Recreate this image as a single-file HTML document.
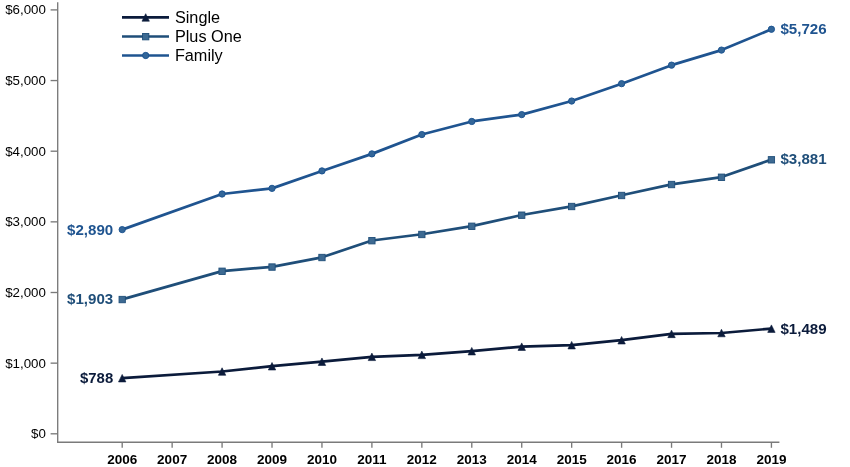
<!DOCTYPE html>
<html lang="en"><head><meta charset="utf-8"><title>Average employee contribution</title>
<style>
html,body{margin:0;padding:0;background:#fff;}
body{width:850px;height:467px;overflow:hidden;}
svg{display:block;}
text{font-family:"Liberation Sans",Arial,sans-serif;}
.yl{font-size:13.3px;fill:#000;text-anchor:end;}
.xl{font-size:13.5px;font-weight:bold;fill:#000;text-anchor:middle;}
.lg{font-size:16.25px;fill:#000;}
.dl{font-size:14.6px;font-weight:bold;}
</style></head><body>
<svg width="850" height="467" viewBox="0 0 850 467">
<rect width="850" height="467" fill="#fff"/>

<g stroke="#7a7a7a" stroke-width="1.35" fill="none">
<path d="M57.7 2.3V442.2H779.4"/>
<path d="M50.6 433.80H57.7"/>
<path d="M50.6 363.15H57.7"/>
<path d="M50.6 292.50H57.7"/>
<path d="M50.6 221.85H57.7"/>
<path d="M50.6 151.20H57.7"/>
<path d="M50.6 80.55H57.7"/>
<path d="M50.6 9.90H57.7"/>
<path d="M122.20 442.2V447.8"/>
<path d="M172.14 442.2V447.8"/>
<path d="M222.08 442.2V447.8"/>
<path d="M272.02 442.2V447.8"/>
<path d="M321.96 442.2V447.8"/>
<path d="M371.90 442.2V447.8"/>
<path d="M421.84 442.2V447.8"/>
<path d="M471.78 442.2V447.8"/>
<path d="M521.72 442.2V447.8"/>
<path d="M571.66 442.2V447.8"/>
<path d="M621.60 442.2V447.8"/>
<path d="M671.54 442.2V447.8"/>
<path d="M721.48 442.2V447.8"/>
<path d="M771.42 442.2V447.8"/>
</g>
<text class="yl" x="45.9" y="438.30">$0</text>
<text class="yl" x="45.9" y="367.65">$1,000</text>
<text class="yl" x="45.9" y="297.00">$2,000</text>
<text class="yl" x="45.9" y="226.35">$3,000</text>
<text class="yl" x="45.9" y="155.70">$4,000</text>
<text class="yl" x="45.9" y="85.05">$5,000</text>
<text class="yl" x="45.9" y="14.40">$6,000</text>
<text class="xl" x="122.20" y="464">2006</text>
<text class="xl" x="172.14" y="464">2007</text>
<text class="xl" x="222.08" y="464">2008</text>
<text class="xl" x="272.02" y="464">2009</text>
<text class="xl" x="321.96" y="464">2010</text>
<text class="xl" x="371.90" y="464">2011</text>
<text class="xl" x="421.84" y="464">2012</text>
<text class="xl" x="471.78" y="464">2013</text>
<text class="xl" x="521.72" y="464">2014</text>
<text class="xl" x="571.66" y="464">2015</text>
<text class="xl" x="621.60" y="464">2016</text>
<text class="xl" x="671.54" y="464">2017</text>
<text class="xl" x="721.48" y="464">2018</text>
<text class="xl" x="771.42" y="464">2019</text>
<polyline points="122.20,229.62 222.08,194.01 272.02,188.36 321.96,170.91 371.90,153.88 421.84,134.53 471.78,121.46 521.72,114.60 571.66,101.04 621.60,83.66 671.54,65.15 721.48,50.10 771.42,29.26" fill="none" stroke="#1f5490" stroke-width="2.7" stroke-linejoin="round" stroke-linecap="round"/>
<circle cx="122.20" cy="229.62" r="3.15" fill="#336699" stroke="#17508f" stroke-width="0.9"/>
<circle cx="222.08" cy="194.01" r="3.15" fill="#336699" stroke="#17508f" stroke-width="0.9"/>
<circle cx="272.02" cy="188.36" r="3.15" fill="#336699" stroke="#17508f" stroke-width="0.9"/>
<circle cx="321.96" cy="170.91" r="3.15" fill="#336699" stroke="#17508f" stroke-width="0.9"/>
<circle cx="371.90" cy="153.88" r="3.15" fill="#336699" stroke="#17508f" stroke-width="0.9"/>
<circle cx="421.84" cy="134.53" r="3.15" fill="#336699" stroke="#17508f" stroke-width="0.9"/>
<circle cx="471.78" cy="121.46" r="3.15" fill="#336699" stroke="#17508f" stroke-width="0.9"/>
<circle cx="521.72" cy="114.60" r="3.15" fill="#336699" stroke="#17508f" stroke-width="0.9"/>
<circle cx="571.66" cy="101.04" r="3.15" fill="#336699" stroke="#17508f" stroke-width="0.9"/>
<circle cx="621.60" cy="83.66" r="3.15" fill="#336699" stroke="#17508f" stroke-width="0.9"/>
<circle cx="671.54" cy="65.15" r="3.15" fill="#336699" stroke="#17508f" stroke-width="0.9"/>
<circle cx="721.48" cy="50.10" r="3.15" fill="#336699" stroke="#17508f" stroke-width="0.9"/>
<circle cx="771.42" cy="29.26" r="3.15" fill="#336699" stroke="#17508f" stroke-width="0.9"/>
<polyline points="122.20,299.35 222.08,271.09 272.02,266.85 321.96,257.32 371.90,240.50 421.84,234.28 471.78,226.09 521.72,215.00 571.66,206.31 621.60,195.29 671.54,184.33 721.48,177.06 771.42,159.61" fill="none" stroke="#1f4e79" stroke-width="2.7" stroke-linejoin="round" stroke-linecap="round"/>
<rect x="119.05" y="296.35" width="6.3" height="6.4" fill="#3d6a92" stroke="#1f4e79" stroke-width="0.9"/>
<rect x="218.93" y="268.09" width="6.3" height="6.4" fill="#3d6a92" stroke="#1f4e79" stroke-width="0.9"/>
<rect x="268.87" y="263.85" width="6.3" height="6.4" fill="#3d6a92" stroke="#1f4e79" stroke-width="0.9"/>
<rect x="318.81" y="254.32" width="6.3" height="6.4" fill="#3d6a92" stroke="#1f4e79" stroke-width="0.9"/>
<rect x="368.75" y="237.50" width="6.3" height="6.4" fill="#3d6a92" stroke="#1f4e79" stroke-width="0.9"/>
<rect x="418.69" y="231.28" width="6.3" height="6.4" fill="#3d6a92" stroke="#1f4e79" stroke-width="0.9"/>
<rect x="468.63" y="223.09" width="6.3" height="6.4" fill="#3d6a92" stroke="#1f4e79" stroke-width="0.9"/>
<rect x="518.57" y="212.00" width="6.3" height="6.4" fill="#3d6a92" stroke="#1f4e79" stroke-width="0.9"/>
<rect x="568.51" y="203.31" width="6.3" height="6.4" fill="#3d6a92" stroke="#1f4e79" stroke-width="0.9"/>
<rect x="618.45" y="192.29" width="6.3" height="6.4" fill="#3d6a92" stroke="#1f4e79" stroke-width="0.9"/>
<rect x="668.39" y="181.33" width="6.3" height="6.4" fill="#3d6a92" stroke="#1f4e79" stroke-width="0.9"/>
<rect x="718.33" y="174.06" width="6.3" height="6.4" fill="#3d6a92" stroke="#1f4e79" stroke-width="0.9"/>
<rect x="768.27" y="156.61" width="6.3" height="6.4" fill="#3d6a92" stroke="#1f4e79" stroke-width="0.9"/>
<polyline points="122.20,378.13 222.08,371.49 272.02,366.19 321.96,361.67 371.90,356.79 421.84,354.81 471.78,351.14 521.72,346.62 571.66,345.13 621.60,340.19 671.54,333.83 721.48,332.98 771.42,328.60" fill="none" stroke="#0b1b3b" stroke-width="2.7" stroke-linejoin="round" stroke-linecap="round"/>
<path d="M122.20 374.43L125.90 381.93H118.50Z" fill="#0b1b3b" stroke="#0b1b3b" stroke-width="0.6" stroke-linejoin="miter"/>
<path d="M222.08 367.79L225.78 375.29H218.38Z" fill="#0b1b3b" stroke="#0b1b3b" stroke-width="0.6" stroke-linejoin="miter"/>
<path d="M272.02 362.49L275.72 369.99H268.32Z" fill="#0b1b3b" stroke="#0b1b3b" stroke-width="0.6" stroke-linejoin="miter"/>
<path d="M321.96 357.97L325.66 365.47H318.26Z" fill="#0b1b3b" stroke="#0b1b3b" stroke-width="0.6" stroke-linejoin="miter"/>
<path d="M371.90 353.09L375.60 360.59H368.20Z" fill="#0b1b3b" stroke="#0b1b3b" stroke-width="0.6" stroke-linejoin="miter"/>
<path d="M421.84 351.11L425.54 358.61H418.14Z" fill="#0b1b3b" stroke="#0b1b3b" stroke-width="0.6" stroke-linejoin="miter"/>
<path d="M471.78 347.44L475.48 354.94H468.08Z" fill="#0b1b3b" stroke="#0b1b3b" stroke-width="0.6" stroke-linejoin="miter"/>
<path d="M521.72 342.92L525.42 350.42H518.02Z" fill="#0b1b3b" stroke="#0b1b3b" stroke-width="0.6" stroke-linejoin="miter"/>
<path d="M571.66 341.43L575.36 348.93H567.96Z" fill="#0b1b3b" stroke="#0b1b3b" stroke-width="0.6" stroke-linejoin="miter"/>
<path d="M621.60 336.49L625.30 343.99H617.90Z" fill="#0b1b3b" stroke="#0b1b3b" stroke-width="0.6" stroke-linejoin="miter"/>
<path d="M671.54 330.13L675.24 337.63H667.84Z" fill="#0b1b3b" stroke="#0b1b3b" stroke-width="0.6" stroke-linejoin="miter"/>
<path d="M721.48 329.28L725.18 336.78H717.78Z" fill="#0b1b3b" stroke="#0b1b3b" stroke-width="0.6" stroke-linejoin="miter"/>
<path d="M771.42 324.90L775.12 332.40H767.72Z" fill="#0b1b3b" stroke="#0b1b3b" stroke-width="0.6" stroke-linejoin="miter"/>
<path d="M122 17.40H169" stroke="#0b1b3b" stroke-width="2.6" fill="none"/>
<path d="M145.70 13.70L149.40 21.20H142.00Z" fill="#0b1b3b" stroke="#0b1b3b" stroke-width="0.6" stroke-linejoin="miter"/>
<text class="lg" x="174.9" y="22.70">Single</text>
<path d="M122 36.45H169" stroke="#1f4e79" stroke-width="2.6" fill="none"/>
<rect x="142.55" y="33.45" width="6.3" height="6.4" fill="#3d6a92" stroke="#1f4e79" stroke-width="0.9"/>
<text class="lg" x="174.9" y="41.75">Plus One</text>
<path d="M122 55.50H169" stroke="#1f5490" stroke-width="2.6" fill="none"/>
<circle cx="145.70" cy="55.50" r="3.15" fill="#336699" stroke="#17508f" stroke-width="0.9"/>
<text class="lg" x="174.9" y="60.80">Family</text>
<text class="dl" x="113.2" y="234.82" text-anchor="end" fill="#1f5490" textLength="46.2" lengthAdjust="spacingAndGlyphs">$2,890</text>
<text class="dl" x="113.2" y="303.95" text-anchor="end" fill="#1f4e79" textLength="46.2" lengthAdjust="spacingAndGlyphs">$1,903</text>
<text class="dl" x="113.2" y="383.03" text-anchor="end" fill="#0b1b3b" textLength="33.2" lengthAdjust="spacingAndGlyphs">$788</text>
<text class="dl" x="780.4" y="34.36" text-anchor="start" fill="#1f5490" textLength="46.2" lengthAdjust="spacingAndGlyphs">$5,726</text>
<text class="dl" x="780.4" y="163.51" text-anchor="start" fill="#1f4e79" textLength="46.2" lengthAdjust="spacingAndGlyphs">$3,881</text>
<text class="dl" x="780.4" y="333.60" text-anchor="start" fill="#0b1b3b" textLength="46.2" lengthAdjust="spacingAndGlyphs">$1,489</text>
</svg></body></html>
